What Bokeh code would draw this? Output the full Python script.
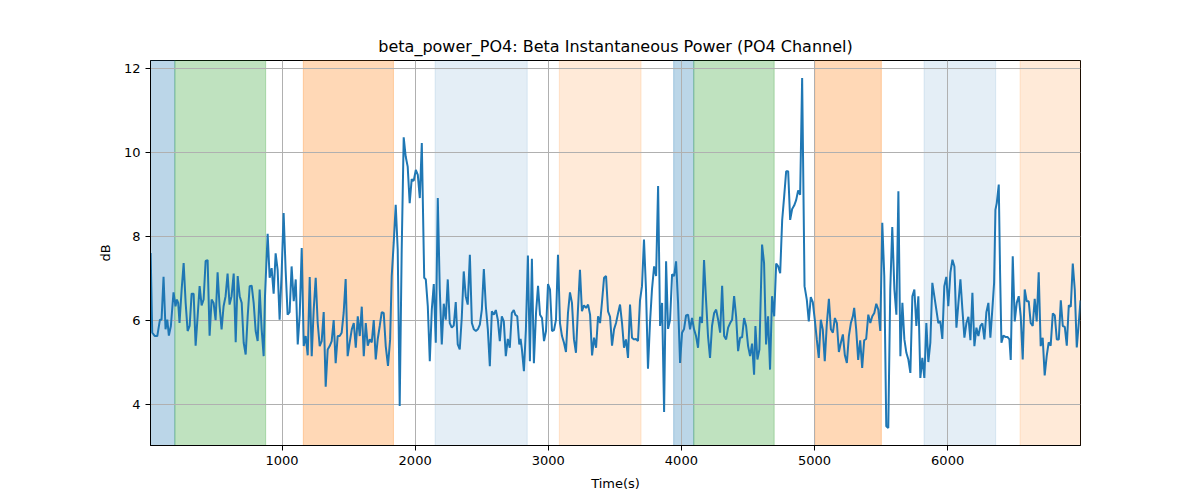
from bokeh.plotting import figure
from bokeh.models import ColumnDataSource, FixedTicker
from bokeh.embed import file_html
from bokeh.resources import INLINE

# --- data ---
time_s = [
    13, 25, 45, 63, 83, 95, 110, 125, 138, 150, 165, 185, 200, 210, 220, 230, 246, 261, 276, 291,
    306, 321, 336, 351, 366, 381, 396, 411, 426, 441, 456, 471, 486, 501, 516, 531, 546, 561, 576, 591,
    606, 621, 637, 652, 667, 682, 697, 712, 727, 742, 757, 772, 787, 802, 817, 832, 847, 862, 872,
    892, 907, 922, 937, 952, 967, 982, 997, 1012, 1027, 1042, 1057, 1072, 1088, 1103, 1118, 1133, 1148,
    1163, 1178, 1193, 1208, 1223, 1238, 1253, 1268, 1283, 1298, 1313, 1328, 1343, 1358, 1373, 1388,
    1403, 1418, 1433, 1448, 1463, 1478, 1493, 1508, 1524, 1539, 1554, 1569, 1584, 1599, 1614, 1629,
    1644, 1659, 1674, 1689, 1704, 1719, 1734, 1749, 1764, 1779,
    1796, 1812, 1824, 1839, 1854, 1869, 1884, 1899, 1914, 1929, 1944, 1959, 1974, 1989, 2005, 2020,
    2035, 2050, 2068, 2080, 2095, 2110, 2125, 2140, 2155, 2170, 2185, 2200, 2215, 2230, 2245, 2260,
    2275, 2290, 2305, 2320, 2335, 2350, 2365, 2380, 2395, 2411, 2426, 2441, 2456, 2471, 2486, 2501,
    2516, 2531, 2546, 2561, 2576, 2591, 2606, 2621, 2636, 2651, 2666, 2681, 2696, 2711, 2726, 2741,
    2752, 2767, 2782, 2792, 2802, 2817, 2832, 2847, 2862, 2877, 2892, 2908, 2923, 2938, 2953, 2968,
    2983, 2998, 3013, 3028, 3043, 3058, 3073, 3088, 3103, 3118, 3133, 3148, 3163, 3178, 3193, 3208,
    3223, 3238, 3253, 3268, 3284, 3299, 3314, 3329, 3344, 3359, 3374, 3389, 3404, 3419, 3434, 3449,
    3464, 3479, 3494, 3509, 3524, 3539, 3554, 3569, 3584, 3599, 3614, 3629, 3644,
    3659, 3674, 3689, 3704, 3719, 3734, 3749, 3764, 3779, 3795, 3810, 3825, 3840, 3855, 3870, 3885,
    3900, 3915, 3930, 3945, 3960, 3975, 3990, 4005, 4020, 4035, 4050, 4065, 4080, 4095, 4110, 4125,
    4140, 4155, 4170, 4185, 4200, 4215, 4230, 4246, 4261, 4276, 4291, 4306, 4321, 4336, 4351, 4366,
    4381, 4396, 4411, 4426, 4441, 4456, 4471, 4486, 4501, 4516, 4531, 4546,
    4556, 4571, 4586, 4606, 4621, 4636, 4651, 4666, 4681, 4697, 4712, 4727, 4742, 4757, 4772, 4787,
    4802, 4817, 4832, 4847, 4862, 4877, 4892, 4907, 4925, 4942, 4957, 4972, 4987, 5002, 5017, 5032,
    5047, 5062, 5077, 5092, 5108, 5123, 5138, 5153, 5168, 5183, 5198, 5213, 5228, 5243, 5258, 5273,
    5288, 5298, 5313, 5328, 5343, 5358, 5373, 5388,
    5404, 5419, 5434, 5449, 5464, 5479, 5494, 5509, 5524, 5539, 5554, 5569, 5584, 5600, 5615, 5630,
    5645, 5660, 5675, 5690, 5705, 5720, 5735, 5750, 5765, 5780, 5795, 5810, 5825, 5840, 5855, 5870,
    5885, 5900, 5915, 5930, 5945, 5960, 5975, 5990, 6005, 6021, 6036, 6051, 6066, 6081, 6096, 6111,
    6126, 6141, 6156, 6171, 6186, 6201, 6216, 6231, 6246, 6261, 6276, 6291, 6306, 6321,
    6339, 6349, 6359, 6369, 6384, 6394, 6404, 6419, 6434, 6449, 6464, 6474, 6489, 6504, 6519, 6534,
    6549, 6564, 6579, 6594, 6609, 6624, 6639, 6654, 6669, 6684, 6699, 6714, 6729, 6744, 6759, 6774,
    6790, 6805, 6820, 6835, 6850, 6865, 6880, 6895, 6910, 6925, 6940, 6955, 6970, 6985, 6998,
]
power_db = [
    7.61, 5.71, 5.63, 5.63, 6.02, 6.02, 7.04, 5.79, 6.02, 5.64, 5.87, 6.67, 6.34, 6.50, 6.42, 5.94, 6.74, 7.37, 6.42, 5.75,
    5.87, 6.64, 6.64, 5.40, 6.10, 6.82, 6.36, 6.50, 7.42, 7.44, 5.64, 6.50, 6.42, 6.01, 7.15, 6.34, 5.79, 6.34, 6.58, 7.12,
    6.38, 6.58, 7.12, 5.48, 7.06, 6.58, 6.42, 5.47, 5.19, 6.10, 6.82, 6.83, 6.42, 5.75, 5.51, 6.74, 5.79, 5.15, 6.58,
    8.07, 7.02, 7.25, 6.64, 7.60, 7.21, 6.02, 7.13, 8.56, 7.21, 6.14, 6.20, 7.29, 6.46, 6.98, 5.43, 6.14, 7.73,
    5.39, 5.63, 5.17, 7.04, 5.15, 6.26, 7.02, 5.94, 5.39, 5.51, 6.20, 4.42, 5.31, 5.39, 5.51, 6.01,
    4.98, 5.63, 5.63, 5.71, 6.18, 6.99, 5.15, 5.47, 5.79, 5.94, 5.35, 6.10, 5.63, 6.33, 5.15, 5.94,
    5.40, 5.55, 5.48, 6.01, 5.07, 5.56, 5.87, 6.20, 6.18, 5.39,
    4.92, 5.55, 7.06, 7.85, 8.76, 7.69, 3.96, 7.69, 10.37, 9.91, 9.67, 8.80, 9.37, 9.33, 9.59, 9.47,
    8.92, 10.23, 7.02, 6.98, 6.34, 5.03, 6.26, 6.87, 5.47, 8.92, 6.74, 5.43, 6.40, 6.02, 6.98, 5.94,
    5.83, 5.88, 6.44, 5.43, 5.31, 6.06, 7.17, 6.58, 6.38, 7.57, 5.94, 5.79, 5.75, 5.79, 5.90, 6.26,
    7.23, 6.34, 5.79, 4.91, 6.22, 6.14, 6.25, 6.02, 5.51, 6.10, 5.98, 5.15, 5.56, 5.35, 6.18, 6.25,
    6.14, 6.10, 5.43, 5.56, 5.31, 4.79, 5.79, 7.55, 5.03, 7.47, 4.98, 6.18, 6.83, 6.14, 6.06, 5.51,
    5.75, 6.87, 6.74, 5.75, 5.77, 6.02, 7.57, 5.94, 5.63, 5.47, 5.25, 6.18, 6.67, 6.42, 5.55, 5.23,
    6.26, 7.21, 6.22, 6.36, 6.30, 6.38, 6.14, 5.17, 5.59, 5.35, 6.10, 5.94, 6.46, 7.02, 7.06, 6.22,
    6.09, 5.40, 5.79, 5.94, 6.17, 6.38, 5.94, 5.35, 5.55, 5.11, 6.38, 5.59, 5.55,
    5.56, 5.51, 6.48, 6.82, 7.93, 6.74, 4.85, 5.94, 6.74, 7.29, 7.06, 9.21, 5.87, 6.42, 3.82, 7.41,
    5.80, 6.02, 7.10, 7.06, 7.41, 6.42, 4.99, 5.71, 5.80, 6.12, 6.14, 5.79, 6.06, 5.79, 5.63, 5.35,
    6.09, 5.94, 7.44, 6.50, 5.63, 5.11, 5.87, 6.18, 6.26, 6.02, 5.71, 6.83, 5.63, 5.55, 5.83, 5.94,
    6.02, 6.58, 6.10, 5.27, 5.59, 5.60, 6.06, 5.87, 5.39, 5.15, 5.45, 4.71,
    5.87, 5.07, 5.31, 7.81, 7.37, 5.43, 6.10, 4.83, 6.58, 6.10, 7.36, 7.29, 7.13, 8.39, 8.96, 9.56,
    9.56, 8.40, 8.66, 8.74, 8.87, 9.10, 9.00, 11.78, 6.82, 6.50, 5.98, 6.56, 6.44, 6.02, 5.55, 5.11,
    6.02, 5.79, 5.03, 5.90, 6.52, 5.79, 5.71, 6.06, 5.94, 5.25, 5.47, 5.67, 5.17, 4.99, 5.63, 5.94,
    6.10, 6.30, 5.79, 5.06, 5.53, 4.87, 5.53, 5.56,
    6.14, 5.94, 6.10, 6.18, 6.40, 6.26, 5.75, 8.33, 7.06, 3.48, 3.44, 6.74, 8.23, 6.74, 6.14, 9.08,
    5.15, 6.42, 5.55, 5.23, 5.07, 4.75, 6.58, 6.74, 5.87, 6.58, 4.63, 5.11, 4.63, 5.94, 5.01, 5.47,
    6.90, 6.58, 6.26, 5.94, 5.98, 5.56, 6.82, 7.04, 6.34, 7.15, 7.45, 7.29, 5.83, 6.42, 6.98, 6.26,
    5.59, 5.94, 6.09, 5.53, 6.66, 5.39, 5.83, 5.63, 5.87, 5.93, 5.55, 6.20, 6.42, 5.59,
    6.42, 6.90, 8.64, 8.80, 9.24, 7.13, 5.47, 5.64, 5.61, 5.61, 5.55, 5.06, 7.53, 5.98, 6.42, 6.58,
    6.10, 5.07, 6.74, 6.46, 6.46, 5.94, 5.87, 6.52, 5.98, 7.15, 5.39, 5.59, 4.69, 5.15, 5.48, 5.40,
    6.17, 6.12, 5.55, 5.55, 6.48, 5.87, 5.85, 5.40, 6.36, 6.33, 7.36, 6.74, 5.36, 5.94, 6.48,
]

# shaded epochs
band_start = [12, 195, 1160, 2150, 3083, 3942, 4093, 5002, 5823, 6544]
band_end = [195, 877, 1837, 2842, 3697, 4093, 4697, 5502, 6361, 6998]
band_kind = ["a", "b", "c", "d", "e", "a", "b", "c", "d", "e"]

x_ticks = [1000, 2000, 3000, 4000, 5000, 6000]
y_ticks = [4, 6, 8, 10, 12]

kind_color = {"a": "#1f77b4", "b": "#2ca02c", "c": "#ff7f0e", "d": "#1f77b4", "e": "#ff7f0e"}
kind_alpha = {"a": 0.3, "b": 0.3, "c": 0.3, "d": 0.12, "e": 0.16}

FONT = "DejaVu Sans"

p = figure(title="beta_power_PO4: Beta Instantaneous Power (PO4 Channel)",
           x_range=(12, 6998), y_range=(3.02, 12.2),
           frame_width=930, frame_height=385,
           min_border_left=150, min_border_right=112, min_border_top=60, min_border_bottom=47,
           x_axis_label="Time(s)", y_axis_label="dB",
           output_backend="svg", toolbar_location=None, tools="")

bands = ColumnDataSource(dict(
    left=band_start, right=band_end,
    color=[kind_color[k] for k in band_kind],
    alpha=[kind_alpha[k] for k in band_kind],
))
r = p.quad(left="left", right="right", bottom=-100, top=100, source=bands,
           fill_color="color", fill_alpha="alpha", line_color="color", line_alpha="alpha",
           line_width=1)
r.level = "image"

p.line(time_s, power_db, line_color="#1f77b4", line_width=2)

p.title.align = "center"
p.title.text_font = FONT
p.title.text_font_size = "16px"
p.title.text_font_style = "normal"
p.title.text_color = "black"

p.xaxis.ticker = FixedTicker(ticks=x_ticks)
p.yaxis.ticker = FixedTicker(ticks=y_ticks)
for ax in p.axis:
    ax.axis_label_text_font = FONT
    ax.axis_label_text_font_size = "13px"
    ax.axis_label_text_font_style = "normal"
    ax.axis_label_text_color = "black"
    ax.major_label_text_font = FONT
    ax.major_label_text_font_size = "13px"
    ax.major_label_text_color = "black"
    ax.axis_line_color = "black"
    ax.major_tick_line_color = "black"
    ax.major_tick_out = 5
    ax.major_tick_in = 0
    ax.minor_tick_line_color = None
    ax.axis_label_standoff = 8

p.grid.grid_line_color = "#b0b0b0"
p.grid.grid_line_width = 1
p.outline_line_color = "black"
p.outline_line_alpha = 1
p.outline_line_width = 1

open("out.html", "w").write(file_html(p, INLINE))
